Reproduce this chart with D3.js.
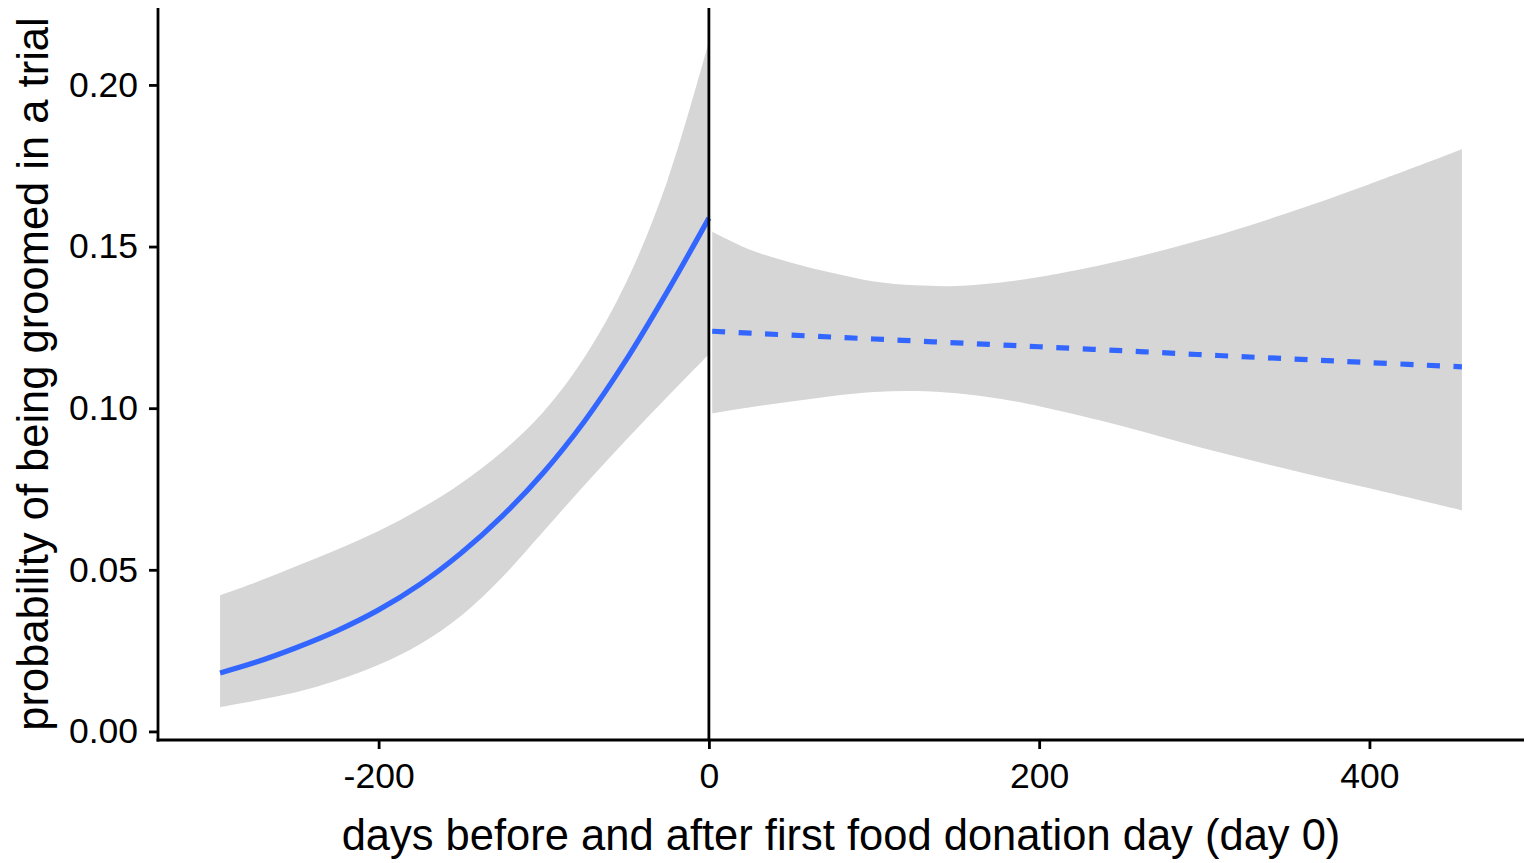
<!DOCTYPE html>
<html><head><meta charset="utf-8">
<script src="https://cdn.jsdelivr.net/npm/d3@7"></script>
<style>
body{margin:0;background:#fff}
svg{display:block}
text{font-family:"Liberation Sans",Arial,Helvetica,sans-serif;fill:#000}
</style>
</head><body>
<svg id="chart" width="1539" height="863"></svg>
<script>
// ---- data ----
const beforeDays  = [-296,-275,-250,-225,-200,-175,-150,-125,-100,-75,-50,-25,0];
const beforeFit   = [0.0181,0.0213,0.0259,0.0312,0.0376,0.0455,0.0552,0.0667,0.0802,0.0962,0.1150,0.1362,0.1588];
const beforeLower = [0.0075,0.0095,0.0121,0.0158,0.0206,0.0270,0.0358,0.0478,0.0620,0.0764,0.0902,0.1036,0.1167];
const beforeUpper = [0.0421,0.0460,0.0511,0.0563,0.0620,0.0688,0.0768,0.0866,0.0990,0.1160,0.1390,0.1705,0.2134];

const afterDays  = [2,25,50,75,100,125,150,175,200,250,300,350,400,456];
const afterFit   = [0.1238,0.1232,0.1226,0.1220,0.1214,0.1208,0.1202,0.1196,0.1190,0.1178,0.1165,0.1153,0.1141,0.1128];
const afterLower = [0.0984,0.1003,0.1021,0.1038,0.1050,0.1053,0.1046,0.1030,0.1006,0.0945,0.0875,0.0812,0.0752,0.0684];
const afterUpper = [0.1546,0.1490,0.1450,0.1418,0.1392,0.1380,0.1378,0.1388,0.1406,0.1457,0.1523,0.1603,0.1693,0.1801];

const xTicks = [-200, 0, 200, 400];
const yTicks = [0.00, 0.05, 0.10, 0.15, 0.20];
const xTitle = "days before and after first food donation day (day 0)";
const yTitle = "probability of being groomed in a trial";
const eventDay = 0;

// ---- layout ----
const svg = d3.select("#chart");
const panel = {left:158, right:1524, top:8, bottom:740};

const x = d3.scaleLinear().domain([-333.6, 493.6]).range([panel.left, panel.right]);
const y = d3.scaleLinear().domain([-0.00265, 0.2238]).range([panel.bottom, panel.top]);

const toRows = (days, fit, lo, hi) => days.map((d,i)=>({d, fit:fit[i], lo:lo[i], hi:hi[i]}));
const before = toRows(beforeDays, beforeFit, beforeLower, beforeUpper);
const after  = toRows(afterDays, afterFit, afterLower, afterUpper);

const curve = d3.curveCatmullRom.alpha(0.5);
const area = d3.area().x(r=>x(r.d)).y0(r=>y(r.lo)).y1(r=>y(r.hi)).curve(curve);
const line = d3.line().x(r=>x(r.d)).y(r=>y(r.fit)).curve(curve);

const g = svg.append("g");
[before, after].forEach(rows=>{
  g.append("path").attr("d", area(rows)).attr("fill","#d6d6d6");
});
g.append("path").attr("d", line(before)).attr("fill","none")
  .attr("stroke","#3366ff").attr("stroke-width",5.2);
g.append("path").attr("d", line(after)).attr("fill","none")
  .attr("stroke","#3366ff").attr("stroke-width",5.2).attr("stroke-dasharray","13,13.5");

// vertical line at day 0
g.append("line").attr("x1",x(eventDay)).attr("x2",x(eventDay))
  .attr("y1",panel.top).attr("y2",panel.bottom)
  .attr("stroke","#000").attr("stroke-width",2.8);

// axes
const yAxis = svg.append("g").attr("transform",`translate(${panel.left},0)`)
  .call(d3.axisLeft(y).tickValues(yTicks).tickFormat(d3.format(".2f")).tickSize(9).tickSizeOuter(0).tickPadding(11));
const xAxis = svg.append("g").attr("transform",`translate(0,${panel.bottom})`)
  .call(d3.axisBottom(x).tickValues(xTicks).tickFormat(d=>String(d)).tickSize(9).tickSizeOuter(0).tickPadding(14));
[yAxis, xAxis].forEach(a=>{
  a.select(".domain").attr("stroke","#000").attr("stroke-width",2.8);
  a.selectAll(".tick line").attr("stroke","#000").attr("stroke-width",2.8);
  a.selectAll(".tick text").attr("font-size",35.5).attr("font-family",'"Liberation Sans",Arial,sans-serif').attr("fill","#000");
});
// extend axis lines to meet at corner
yAxis.select(".domain").attr("d",`M0,${panel.top}V${panel.bottom+1.4}`);
xAxis.select(".domain").attr("d",`M${panel.left-1.4},0H${panel.right}`);

svg.append("text").attr("x",(panel.left+panel.right)/2).attr("y",850)
  .attr("text-anchor","middle").attr("font-size",43.5).text(xTitle);
svg.append("text").attr("transform",`translate(48,${(panel.top+panel.bottom)/2}) rotate(-90)`)
  .attr("text-anchor","middle").attr("font-size",43.5).text(yTitle);
</script>
</body></html>
